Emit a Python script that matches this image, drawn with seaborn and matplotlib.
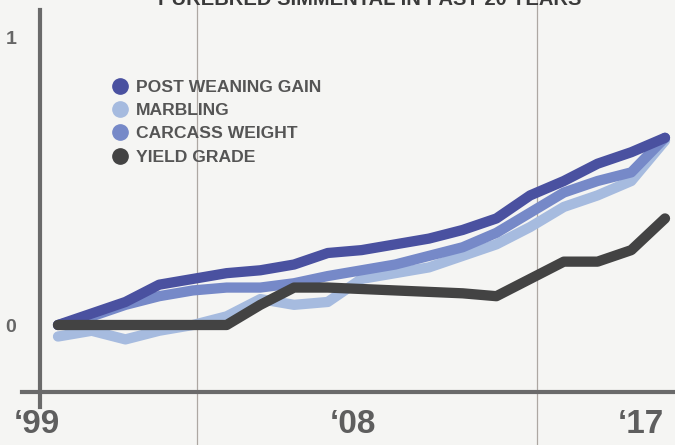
import matplotlib
matplotlib.use("Agg")
import matplotlib.pyplot as plt
import seaborn as sns
import pandas as pd
from matplotlib.lines import Line2D

# ---- data ----
years = list(range(1999, 2018))
post_weaning_gain = [0.00, 0.04, 0.08, 0.14, 0.16, 0.18, 0.19, 0.21, 0.25, 0.26,
                     0.28, 0.30, 0.33, 0.37, 0.45, 0.50, 0.56, 0.60, 0.65]
marbling = [-0.04, -0.02, -0.05, -0.02, 0.00, 0.03, 0.09, 0.07, 0.08, 0.16,
            0.18, 0.20, 0.24, 0.28, 0.34, 0.41, 0.45, 0.50, 0.64]
carcass_weight = [0.00, 0.03, 0.07, 0.10, 0.12, 0.13, 0.13, 0.145, 0.17, 0.19,
                  0.21, 0.24, 0.27, 0.32, 0.39, 0.46, 0.50, 0.53, 0.65]
yield_grade = [0.00, 0.00, 0.00, 0.00, 0.00, 0.00, 0.07, 0.13, 0.13, 0.125,
               0.12, 0.115, 0.11, 0.10, 0.16, 0.22, 0.22, 0.26, 0.37]

series_names = ["POST WEANING GAIN", "MARBLING", "CARCASS WEIGHT", "YIELD GRADE"]
series_colors = ["#4a51a0", "#a6bbdf", "#7689c8", "#434343"]
xtick_labels = ["\u201899", "\u201808", "\u201817"]
ytick_values = [0, 1]
ytick_labels = ["0", "1"]
title_text = "PUREBRED SIMMENTAL IN PAST 20 YEARS"

# ---- figure ----
sns.set_theme(style="white")
plt.rcParams["font.family"] = ["Liberation Sans", "DejaVu Sans"]

BG = "#f5f5f3"
W, H = 675, 445
fig = plt.figure(figsize=(W / 100, H / 100), dpi=100, facecolor=BG)
ax = fig.add_axes([0, 0, 1, 1])
ax.set_facecolor("none")

# wood-plank seams in the background
for xp in (197, 537):
    fig.add_artist(Line2D([xp / W, xp / W], [0, 1], transform=fig.transFigure,
                          color="#8f8680", lw=0.9, alpha=0.7, zorder=0))

df = pd.DataFrame({
    "year": years * 4,
    "value": post_weaning_gain + marbling + carcass_weight + yield_grade,
    "series": sum([[n] * len(years) for n in series_names], []),
})
palette = dict(zip(series_names, series_colors))
draw_order = ["MARBLING", "CARCASS WEIGHT", "POST WEANING GAIN", "YIELD GRADE"]
sns.lineplot(data=df, x="year", y="value", hue="series", hue_order=draw_order,
             palette=palette, linewidth=7.4, legend=False, errorbar=None,
             sort=False, ax=ax, solid_capstyle="round", solid_joinstyle="round")

# pixel mapping: 1999 -> x=58px, 2017 -> x=665px ; 0 -> y=325px, 1 -> y=37px
ppy = (665 - 58) / 18
def xd(px):
    return 1999 + (px - 58) / ppy
def yd(py):
    return (325 - py) / 288

ax.set_xlim(xd(0), xd(W))
ax.set_ylim(yd(H), yd(0))
ax.set_xlabel("")
ax.set_ylabel("")

for s in ("top", "right"):
    ax.spines[s].set_visible(False)
axis_col = "#6a6a6a"
ax.spines["left"].set_position(("data", xd(40)))
ax.spines["left"].set_bounds(yd(407), yd(10))
ax.spines["bottom"].set_position(("data", yd(392)))
ax.spines["bottom"].set_bounds(xd(22), xd(W))
for s in ("left", "bottom"):
    ax.spines[s].set_color(axis_col)
    ax.spines[s].set_linewidth(3.0)
    ax.spines[s].set_zorder(1)

ax.set_xticks([xd(37), xd(353), xd(641)], xtick_labels)
ax.set_yticks(ytick_values, ytick_labels)
ax.tick_params(axis="x", length=0, pad=12, labelsize=24, labelcolor="#5e5e5e")
ax.tick_params(axis="y", length=0, pad=17, labelsize=14, labelcolor="#666666")
for lab in ax.get_xticklabels():
    lab.set_family(["Liberation Sans Narrow", "Liberation Sans", "DejaVu Sans"])
    lab.set_fontweight("bold")
for lab in ax.get_yticklabels():
    lab.set_fontweight("bold")

handles = [Line2D([], [], marker="o", linestyle="none", markersize=11,
                  markerfacecolor=c, markeredgecolor=c) for c in series_colors]
fig.legend(handles, series_names, loc="upper left",
           bbox_to_anchor=(111 / W, 1 - 80 / H), bbox_transform=fig.transFigure,
           frameon=False, prop=dict(weight="bold", size=12.6),
           labelcolor="#555555", handlelength=1.0, handletextpad=0.4,
           labelspacing=0.45, borderpad=0, borderaxespad=0)

fig.text(370 / W, 1 - 5 / H, title_text, ha="center", va="baseline",
         fontsize=14.5, fontweight="bold", color="#3a3a3a")

fig.savefig("out.png", dpi=100, facecolor=BG)
